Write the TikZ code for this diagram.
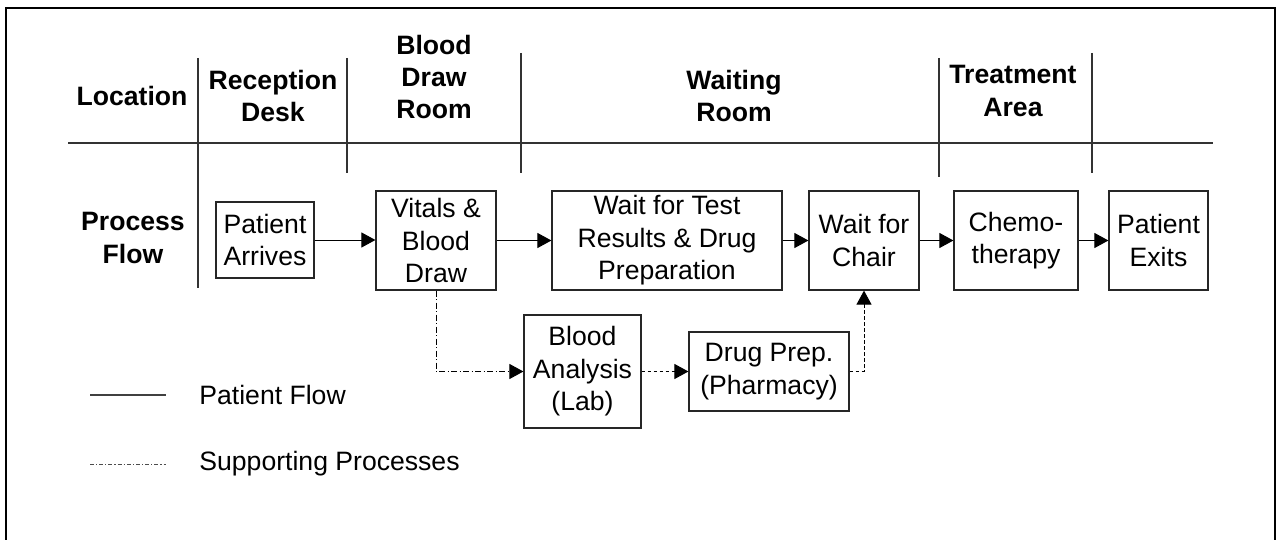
\documentclass[tikz,border=0pt]{standalone}
\usepackage{fontspec}
\setmainfont{Liberation Sans}
\usetikzlibrary{arrows.meta}
\begin{document}
\begin{tikzpicture}[x=0.5pt,y=-0.5pt,
  txt/.style={font=\fontsize{13.3}{16.2}\selectfont, align=center, inner sep=0pt},
  hdr/.style={txt, font=\fontsize{13.3}{16.2}\selectfont\bfseries},
  box/.style={txt, draw=black!85, line width=0.6pt},
  grid/.style={line width=0.55pt, draw=black!80},
  flow/.style={line width=0.5pt, -{Triangle[length=7pt,width=7.5pt]}},
  suppdd/.style={line width=0.5pt, dash pattern=on 3pt off 1.2pt on 0.6pt off 1.2pt, -{Triangle[length=7pt,width=7.5pt]}},
  suppd/.style={line width=0.5pt, dash pattern=on 1.8pt off 1.2pt, -{Triangle[length=7pt,width=7.5pt]}}
]
\useasboundingbox (0,0) rectangle (1280,540);
\begin{scope}
\clip (0,0) rectangle (1280,540);
\draw[line width=1pt] (6,560) -- (6,8) -- (1275,8) -- (1275,560);
\end{scope}

% grid lines
\draw[grid] (68,143) -- (1213,143);
\draw[grid] (198,58) -- (198,288);
\draw[grid] (347,58) -- (347,173);
\draw[grid] (521,53) -- (521,173);
\draw[grid] (939,58) -- (939,177);
\draw[grid] (1092,53) -- (1092,173);

% headers
\node[hdr] (loc) at (132,96) {Location};
\node[hdr] (rec) at (273,96) {Reception\\Desk};
\node[hdr] (bdr) at (434,77) {Blood\\Draw\\Room};
\node[hdr] (wr) at (734,96) {Waiting\\Room};
\node[hdr] (ta) at (1013,91) {Treatment\\Area};
\node[hdr] (pf) at (133,238) {Process\\Flow};

% boxes
\node[box, minimum width=49pt, minimum height=38pt] (PA) at (265,240) {Patient\\Arrives};
\node[box, minimum width=60pt, minimum height=49.5pt] (VB) at (436,240.5) {Vitals \&\\Blood\\Draw};
\node[box, minimum width=115pt, minimum height=49.5pt] (WT) at (667,240.5) {Wait for Test\\Results \& Drug\\Preparation};
\node[box, minimum width=55pt, minimum height=49.5pt] (WC) at (864,240.5) {Wait for\\Chair};
\node[box, minimum width=62pt, minimum height=49.5pt] (CH) at (1016,240.5) {Chemo-\\therapy};
\node[box, minimum width=49.5pt, minimum height=49.5pt] (PE) at (1158.5,240.5) {Patient\\Exits};
\node[box, minimum width=58.5pt, minimum height=56.5pt] (BA) at (582.5,371.5) {Blood\\Analysis\\(Lab)};
\node[box, minimum width=80pt, minimum height=39.5pt] (DP) at (769,371.5) {Drug Prep.\\(Pharmacy)};

% patient flow
\draw[flow] (PA.east) -- (PA.east -| VB.west);
\draw[flow] (VB.east) -- (VB.east -| WT.west);
\draw[flow] (WT.east) -- (WT.east -| WC.west);
\draw[flow] (WC.east) -- (WC.east -| CH.west);
\draw[flow] (CH.east) -- (CH.east -| PE.west);

% supporting processes
\draw[suppdd] (VB.south) |- (BA.west);
\draw[suppd] (BA.east) -- (DP.west);
\draw[suppd] (DP.east) -| (WC.south);

% legend
\coordinate (l1a) at (90,395);
\coordinate (l1b) at (166,395);
\coordinate (l2a) at (90,464);
\coordinate (l2b) at (166,464);
\draw[line width=0.6pt, draw=black!75] (l1a) -- (l1b);
\draw[line width=0.5pt, draw=black!70, dash pattern=on 2pt off 1pt on 0.6pt off 1pt] (l2a) -- (l2b);
\node[txt, anchor=west] (lt1) at (199,395) {Patient Flow};
\node[txt, anchor=west] (lt2) at (199,464) {Supporting Processes};
\end{tikzpicture}
\end{document}
